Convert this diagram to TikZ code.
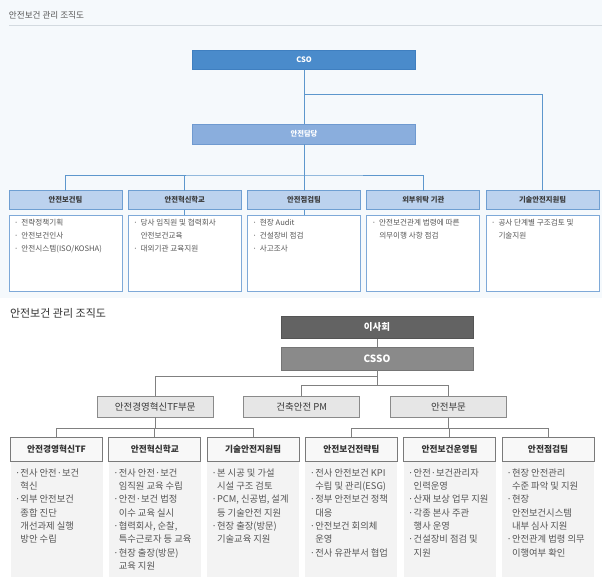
\documentclass[tikz,border=0pt]{standalone}
\usepackage{fontspec}
\setmainfont{Noto Sans CJK KR}
\definecolor{topbg}{HTML}{F5F9FC}
\definecolor{ruleA}{HTML}{D3DAE0}
\definecolor{csoF}{HTML}{4A8BCB}
\definecolor{csoD}{HTML}{3F7FC0}
\definecolor{dangF}{HTML}{8AAEDD}
\definecolor{dangD}{HTML}{6F9AD0}
\definecolor{hdrF}{HTML}{BCD2EE}
\definecolor{hdrD}{HTML}{6F9FD2}
\definecolor{cntD}{HTML}{7EA9D8}
\definecolor{lineA}{HTML}{5D97CD}
\definecolor{txtA}{HTML}{555555}
\definecolor{txtB}{HTML}{3A3A3A}
\definecolor{isaF}{HTML}{636363}
\definecolor{cssoF}{HTML}{8A8A8A}
\definecolor{midF}{HTML}{E6E6E6}
\definecolor{midD}{HTML}{8A8A8A}
\definecolor{lowF}{HTML}{F8F8F8}
\definecolor{lowD}{HTML}{7A7A7A}
\definecolor{panF}{HTML}{F3F3F3}
\definecolor{lineB}{HTML}{808080}
\newcommand\tbul{\makebox[7.5pt][l]{·}}
\newcommand\tcon{\hspace*{7.5pt}}
\newcommand\pbul{\makebox[5.5pt][l]{·}}
\newcommand\pcon{\hspace*{5.5pt}}
\begin{document}
\begin{tikzpicture}[x=1pt,y=-1pt,
  every node/.style={inner sep=0pt,outer sep=0pt},
  csobox/.style={draw=csoD,fill=csoF,line width=0.6pt,minimum width=223pt,minimum height=19.5pt,text=white,font=\fontsize{7.5}{9}\selectfont\bfseries},
  dangbox/.style={draw=dangD,fill=dangF,line width=0.6pt,minimum width=223pt,minimum height=20pt,text=white,font=\fontsize{7.3}{9}\selectfont\bfseries},
  hdrbox/.style={draw=hdrD,fill=hdrF,line width=0.7pt,minimum width=113pt,minimum height=19pt,text=txtB,font=\fontsize{7.3}{9}\selectfont\bfseries},
  cntbox/.style={draw=cntD,fill=white,line width=0.7pt,minimum width=113pt,minimum height=76pt},
  cnttext/.style={anchor=north west,align=left,text=txtA,font=\fontsize{7.6}{12.7}\selectfont},
  conA/.style={draw=lineA,line width=0.9pt},
  isabox/.style={draw=isaF!85!black,fill=isaF,line width=0.6pt,minimum width=192pt,minimum height=22.5pt,text=white,font=\fontsize{9.5}{11}\selectfont\bfseries},
  cssobox/.style={draw=cssoF!85!black,fill=cssoF,line width=0.6pt,minimum width=192pt,minimum height=23pt,text=white,font=\fontsize{10}{12}\selectfont\bfseries},
  midbox/.style={draw=midD,fill=midF,line width=0.8pt,minimum width=116pt,minimum height=21pt,text=txtB,font=\fontsize{9.5}{11}\selectfont},
  lowbox/.style={draw=lowD,fill=lowF,line width=0.8pt,minimum width=92pt,minimum height=24pt,text=black!80,font=\fontsize{8.7}{10}\selectfont\bfseries},
  panbox/.style={fill=panF,minimum width=92pt,minimum height=115pt},
  pantext/.style={anchor=north west,align=left,text=txtA,font=\fontsize{9.3}{13.3}\selectfont},
  conB/.style={draw=lineB,line width=0.8pt}]
\useasboundingbox (0,0) rectangle (602,584);
\fill[topbg] (0,0) rectangle (602,298);
\fill[white] (0,298) rectangle (602,584);
% ---------- top chart ----------
\node[anchor=west,text=txtA,font=\fontsize{8.6}{10}\selectfont] (title1) at (9,15) {안전보건 관리 조직도};
\draw[ruleA,line width=0.8pt] (9,25) -- (602,25);
\node[csobox] (cso) at (304,59.75) {CSO};
\node[dangbox] (dang) at (304,134) {안전담당};
\foreach \i/\t in {1/안전보건팀,2/안전혁신학교,3/안전점검팀,4/외부위탁 기관,5/기술안전지원팀}{
  \node[hdrbox] (h\i) at ({65.5+119.25*(\i-1)},200) {\t};
  \node[cntbox] (c\i) at ({65.5+119.25*(\i-1)},253) {};
}
\node[cnttext] (ct1) at (14,219.5) {\tbul 전략정책기획\\ \tbul 안전보건인사\\ \tbul 안전시스템(ISO/KOSHA)};
\node[cnttext] (ct2) at (133.25,219.5) {\tbul 당사 임직원 및 협력회사\\ \tcon 안전보건교육\\ \tbul 대외기관 교육지원};
\node[cnttext] (ct3) at (252.5,219.5) {\tbul 현장 Audit\\ \tbul 건설장비 점검\\ \tbul 사고조사};
\node[cnttext] (ct4) at (371.75,219.5) {\tbul 안전보건관계 법령에 따른\\ \tcon 의무이행 사항 점검};
\node[cnttext] (ct5) at (491,219.5) {\tbul 공사 단계별 구조검토 및\\ \tcon 기술지원};
\coordinate (j1) at (304,94.3);
\coordinate (j2) at (304,175);
\draw[conA] (cso) -- (dang);
\draw[conA] (j1) -| (h5.north);
\draw[conA] (dang.south) -- (h3.north);
\draw[conA] (h1.north) |- (j2) -| (h4.north);
\draw[conA] (h2.north) -- (h2.north |- j2);
\draw[conA] (h2.south) -- (c2.north);
\draw[conA] (h3.south) -- (c3.north);
% ---------- bottom chart ----------
\node[anchor=west,text=black!80,font=\fontsize{11}{13}\selectfont] (title2) at (10,313) {안전보건 관리 조직도};
\node[isabox] (isa) at (377,327.25) {이사회};
\node[cssobox] (csso) at (377,358.5) {CSSO};
\node[midbox] (m1) at (155.25,406.5) {안전경영혁신TF부문};
\node[midbox] (m2) at (301.75,406.5) {건축안전 PM};
\node[midbox] (m3) at (448.5,406.5) {안전부문};
\foreach \i/\t in {1/안전경영혁신TF,2/안전혁신학교,3/기술안전지원팀,4/안전보건전략팀,5/안전보건운영팀,6/안전점검팀}{
  \node[lowbox] (l\i) at ({56.5+98.3*(\i-1)},449) {\t};
  \node[panbox] (p\i) at ({56.5+98.3*(\i-1)},519.5) {};
}
\node[pantext] (pt1) at (15,468.5) {\pbul 전사 안전·보건\\ \pcon 혁신\\ \pbul 외부 안전보건\\ \pcon 종합 진단\\ \pcon 개선과제 실행\\ \pcon 방안 수립};
\node[pantext] (pt2) at (113.3,468.5) {\pbul 전사 안전·보건\\ \pcon 임직원 교육 수립\\ \pbul 안전·보건 법정\\ \pcon 이수 교육 실시\\ \pbul 협력회사, 순찰,\\ \pcon 특수근로자 등 교육\\ \pbul 현장 출장(방문)\\ \pcon 교육 지원};
\node[pantext] (pt3) at (211.6,468.5) {\pbul 본 시공 및 가설\\ \pcon 시설 구조 검토\\ \pbul PCM, 신공법, 설계\\ \pcon 등 기술안전 지원\\ \pbul 현장 출장(방문)\\ \pcon 기술교육 지원};
\node[pantext] (pt4) at (309.9,468.5) {\pbul 전사 안전보건 KPI\\ \pcon 수립 및 관리(ESG)\\ \pbul 정부 안전보건 정책\\ \pcon 대응\\ \pbul 안전보건 회의체\\ \pcon 운영\\ \pbul 전사 유관부서 협업};
\node[pantext] (pt5) at (408.2,468.5) {\pbul 안전·보건관리자\\ \pcon 인력운영\\ \pbul 산재 보상 업무 지원\\ \pbul 각종 본사 주관\\ \pcon 행사 운영\\ \pbul 건설장비 점검 및\\ \pcon 지원};
\node[pantext] (pt6) at (506.5,468.5) {\pbul 현장 안전관리\\ \pcon 수준 파악 및 지원\\ \pbul 현장\\ \pcon 안전보건시스템\\ \pcon 내부 심사 지원\\ \pbul 안전관계 법령 의무\\ \pcon 이행여부 확인};
\coordinate (k1) at (377,376.5);
\coordinate (k2) at (377,385.5);
\coordinate (k3) at (0,428);
\draw[conB] (isa) -- (csso);
\draw[conB] (csso.south) -- (k2);
\draw[conB] (k1) -| (m1.north);
\draw[conB] (m2.north) |- (k2) -| (m3.north);
\draw[conB] (m1.south) -- (m1.south |- k3);
\draw[conB] (m3.south) -- (m3.south |- k3);
\draw[conB] (l1.north) -- (l1.north |- k3) -- (l3.north |- k3) -- (l3.north);
\draw[conB] (l2.north) -- (l2.north |- k3);
\draw[conB] (l4.north) -- (l4.north |- k3) -- (l6.north |- k3) -- (l6.north);
\draw[conB] (l5.north) -- (l5.north |- k3);
\end{tikzpicture}
\end{document}
